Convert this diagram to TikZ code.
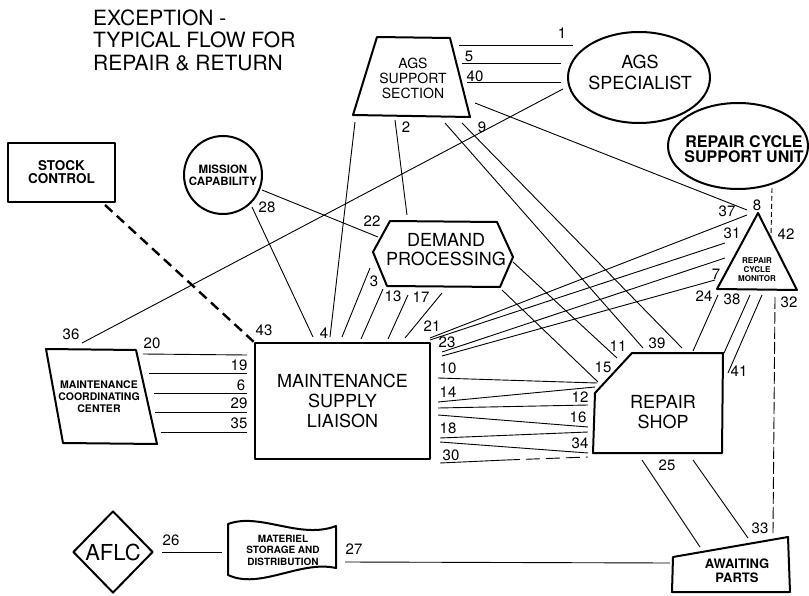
\documentclass[tikz,border=0pt]{standalone}
\usepackage{fontspec}
\setmainfont{TeX Gyre Heros}
\usetikzlibrary{shapes.geometric}
\newcommand\fsz[2]{\fontsize{#1}{#2}\selectfont}
\tikzset{
  blk/.style={line width=2pt, line join=round},
  lnk/.style={line width=0.9pt},
  tag/.style={inner sep=0pt, font=\fsz{15}{15}},
  txt/.style={inner sep=0pt, align=center},
}
\begin{document}
\begin{tikzpicture}[x=1pt,y=-1pt]
\useasboundingbox (0,0) rectangle (809,596);
\node[txt, align=left, anchor=west, font=\fsz{21}{22.5}] (title) at (93,40) {EXCEPTION -\\TYPICAL FLOW FOR\\REPAIR \& RETURN};

\node[draw, blk, ellipse, minimum width=142pt, minimum height=91pt, inner sep=0pt] (agsspec) at (639,77.5) {};
\node[txt, font=\fsz{18}{21}] (agsspecT) at (640,72) {AGS\\SPECIALIST};
\node[draw, blk, ellipse, minimum width=140pt, minimum height=86pt, inner sep=0pt] (rcsu) at (738,146) {};
\node[txt, font=\bfseries\fsz{16}{15}] (rcsuT) at (744,149) {REPAIR CYCLE\\SUPPORT UNIT};
\node[draw, blk, circle, minimum size=78pt, inner sep=0pt, txt, font=\bfseries\fsz{11.5}{12}] (mission) at (223,175) {MISSION\\CAPABILITY};
\node[draw, blk, minimum width=107pt, minimum height=59pt, txt, font=\bfseries\fsz{13.5}{13}] (stock) at (61.5,172.5) {STOCK\\CONTROL};
\node[draw, blk, minimum width=175pt, minimum height=116pt, txt, font=\fsz{18}{20}] (msl) at (342.5,401) {MAINTENANCE\\SUPPLY\\LIAISON};
\node[draw, blk, diamond, minimum width=80pt, minimum height=82pt, inner sep=0pt, font=\fsz{22}{22}] (aflc) at (113,552) {AFLC};

\draw[blk] (377,37) -- (450,38) -- (470,117) -- (353,115) -- cycle;
\node[txt, font=\fsz{14}{15}] (agssup) at (413,78) {AGS\\SUPPORT\\SECTION};
\draw[blk] (390,221) -- (497,222) -- (513,257) -- (500,287) -- (387,286) -- (373,252) -- cycle;
\node[txt, font=\fsz{18}{19}] (demand) at (446,250) {DEMAND\\PROCESSING};
\draw[blk] (46,349) -- (136,350) -- (157,444) -- (63,443) -- cycle;
\node[txt, font=\bfseries\fsz{10.5}{12}] (mcc) at (99,397) {MAINTENANCE\\COORDINATING\\CENTER};
\draw[blk] (758,213) -- (797,290) -- (717,289) -- cycle;
\node[txt, font=\bfseries\fsz{8}{9}] (rcm) at (757,270) {REPAIR\\CYCLE\\MONITOR};
\draw[blk] (632,353) -- (723,353) -- (722,453) -- (593,453) -- (595,393) -- cycle;
\node[txt, font=\fsz{18}{20}] (shop) at (663,412) {REPAIR\\SHOP};
\draw[blk] (228,524) .. controls (260,512) and (300,540) .. (336,526) -- (336,568) .. controls (300,560) and (260,590) .. (228,575) -- cycle;
\node[txt, font=\bfseries\fsz{10}{11.5}] (matl) at (283,550) {MATERIEL\\STORAGE AND\\DISTRIBUTION};
\draw[blk] (673,557) -- (788,537) -- (790,592) -- (672,592) -- cycle;
\node[txt, font=\bfseries\fsz{13}{14}] (await) at (737,571) {AWAITING\\PARTS};

\foreach \n/\ax/\ay/\bx/\by/\tx/\ty in {
  1/459/45/573/45/562/33, 5/462/63/561/63/469/56, 40/467/82/561/82/475/76,
  36/563/89/82/343/71/334, 8/475/103/747/210/757/205, 4/355/122/330/337/324/333,
  2/395/120/407/215/406/127, 39/445/123/643/348/657/343, 9/462/123/682/348/482/127,
  28/252/207/313/337/267/207, 22/262/190/378/237/372/221, 3/370/268/342/337/374/281,
  13/383/289/361/339/393/296, 17/408/295/388/339/421/297, 21/442/293/405/338/432/326,
  37/430/338/747/215/727/211, 31/430/340/725/243/732/233, 23/442/352/725/258/447/342,
  7/442/356/715/280/716/274, 20/143/354/247/355/152/343, 19/149/373/247/373/239/365,
  6/154/393/247/393/241/385, 29/155/412/247/412/239/403, 35/161/432/247/432/239/423,
  10/438/378/597/383/448/368, 14/438/402/595/387/448/392, 12/438/408/588/405/580/397,
  16/438/415/588/427/578/417, 18/440/438/588/432/448/428, 34/440/442/588/453/580/443,
  11/513/262/617/358/618/346, 15/502/290/598/382/603/367, 24/693/351/718/295/704/296,
  38/750/295/724/353/732/299, 41/762/295/728/373/739/371, 33/693/460/748/538/760/528,
  25/642/460/700/547/667/465, 27/345/562/670/563/354/549, 26/162/552/222/552/171/540}{
  \coordinate (a\n) at (\ax,\ay);
  \coordinate (b\n) at (\bx,\by);
  \draw[lnk] (a\n) -- (b\n);
  \node[tag] (t\n) at (\tx,\ty) {\n};
}

\coordinate (a43) at (105,205); \coordinate (b43) at (255,343);
\draw[line width=2.4pt, dash pattern=on 10pt off 6pt] (a43) -- (b43);
\node[tag] (t43) at (264,330) {43};
\coordinate (a32) at (775,297); \coordinate (b32) at (773,533);
\draw[lnk, dash pattern=on 12pt off 3pt] (a32) -- (b32);
\node[tag] (t32) at (789,302) {32};
\coordinate (a42) at (772,188); \coordinate (b42) at (771,237);
\draw[lnk, dash pattern=on 5pt off 3pt] (a42) -- (b42);
\node[tag] (t42) at (786,234) {42};
\coordinate (a30) at (440,463); \coordinate (m30) at (506,460); \coordinate (b30) at (588,457);
\draw[lnk] (a30) -- (m30);
\draw[lnk, dash pattern=on 14pt off 6pt] (m30) -- (b30);
\node[tag] (t30) at (451,455) {30};
\end{tikzpicture}
\end{document}
